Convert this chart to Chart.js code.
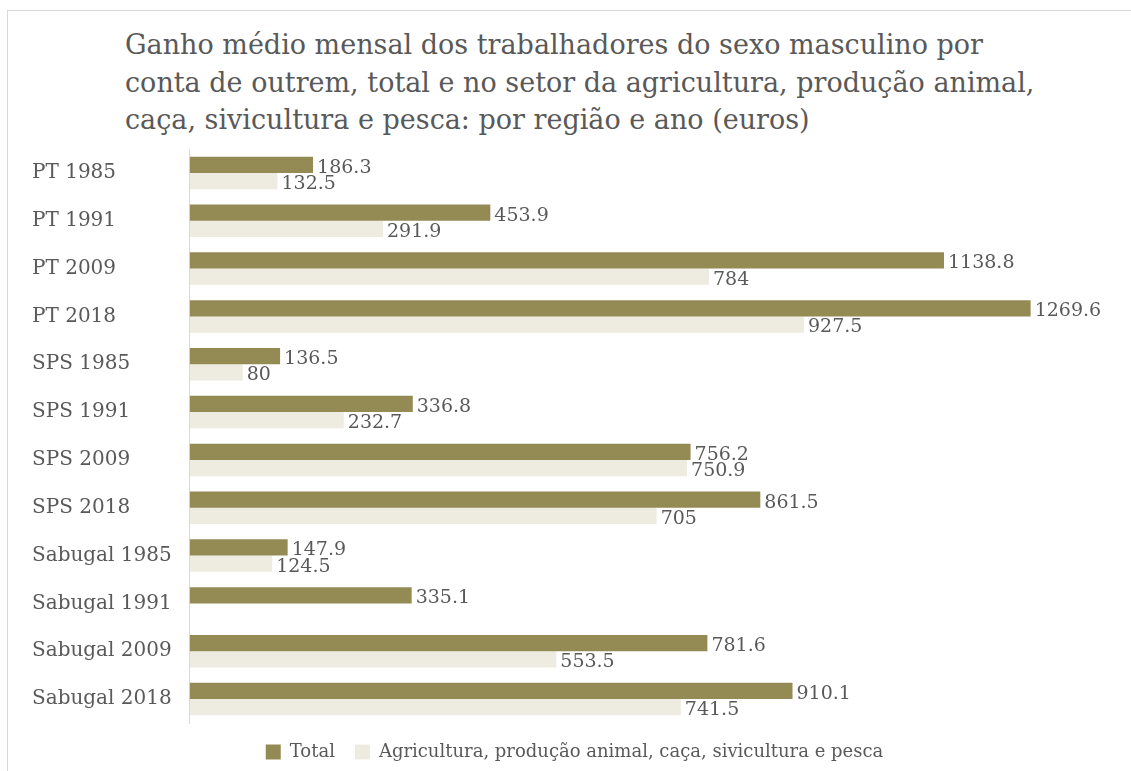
<!DOCTYPE html>
<html>
<head>
<meta charset="utf-8">
<script src="https://cdn.jsdelivr.net/npm/chart.js@4"></script>
<style>
  body { margin: 0; background: #fff; overflow: hidden; }
  #frame { position: absolute; left: 7px; top: 10px; width: 1140px; height: 780px; border: 1px solid #d9d9d9; }
  #titulo { position: absolute; left: 125px; top: 26px; font: 27px "DejaVu Serif", serif; line-height: 37.5px; color: #595959; }
  #grafico { position: absolute; left: 0; top: 0; }
</style>
</head>
<body>
<div id="frame"></div>
<div id="titulo">Ganho médio mensal dos trabalhadores do sexo masculino por<br>conta de outrem, total e no setor da agricultura, produção animal,<br>caça, sivicultura e pesca: por região e ano (euros)</div>
<canvas id="grafico" width="1131" height="771"></canvas>
<script>
// categorias e valores
const categorias = ['PT 1985', 'PT 1991', 'PT 2009', 'PT 2018', 'SPS 1985', 'SPS 1991', 'SPS 2009', 'SPS 2018',
  'Sabugal 1985', 'Sabugal 1991', 'Sabugal 2009', 'Sabugal 2018'];
const total = [186.3, 453.9, 1138.8, 1269.6, 136.5, 336.8, 756.2, 861.5, 147.9, 335.1, 781.6, 910.1];
const agricultura = [132.5, 291.9, 784, 927.5, 80, 232.7, 750.9, 705, 124.5, null, 553.5, 741.5];

const cinza = '#595959';
const fonte = '"DejaVu Serif", serif';

// rótulos de valor no fim de cada barra
const rotulos = {
  id: 'rotulos',
  afterDatasetsDraw(chart) {
    const ctx = chart.ctx;
    ctx.save();
    ctx.font = '19px ' + fonte;
    ctx.fillStyle = cinza;
    ctx.textAlign = 'left';
    ctx.textBaseline = 'middle';
    chart.data.datasets.forEach((ds, i) => {
      chart.getDatasetMeta(i).data.forEach((bar, j) => {
        const v = ds.data[j];
        if (v === null) return;
        ctx.fillText(String(v), bar.x + 4, bar.y + 3);
      });
    });
    ctx.restore();
  }
};

new Chart(document.getElementById('grafico').getContext('2d'), {
  type: 'bar',
  data: {
    labels: categorias,
    datasets: [{
      label: 'Total',
      data: total,
      backgroundColor: '#948A54'
    }, {
      label: 'Agricultura, produção animal, caça, sivicultura e pesca',
      data: agricultura,
      backgroundColor: '#EEECE1'
    }]
  },
  options: {
    indexAxis: 'y',
    responsive: false,
    animation: false,
    categoryPercentage: 0.68,
    barPercentage: 1.0,
    layout: { padding: { top: 149, left: 32, right: 14, bottom: 0 } },
    scales: {
      x: { display: false, min: 0, max: 1400 },
      y: {
        grid: { display: false, drawTicks: false },
        border: { display: true, color: '#d9d9d9', width: 1 },
        ticks: { crossAlign: 'far', color: cinza, font: { family: fonte, size: 20 }, padding: 9 }
      }
    },
    plugins: {
      legend: {
        position: 'bottom',
        labels: { color: cinza, font: { family: fonte, size: 18 }, boxWidth: 15, boxHeight: 15, padding: 20 }
      },
      tooltip: { enabled: false }
    }
  },
  plugins: [rotulos]
});
</script>
</body>
</html>
